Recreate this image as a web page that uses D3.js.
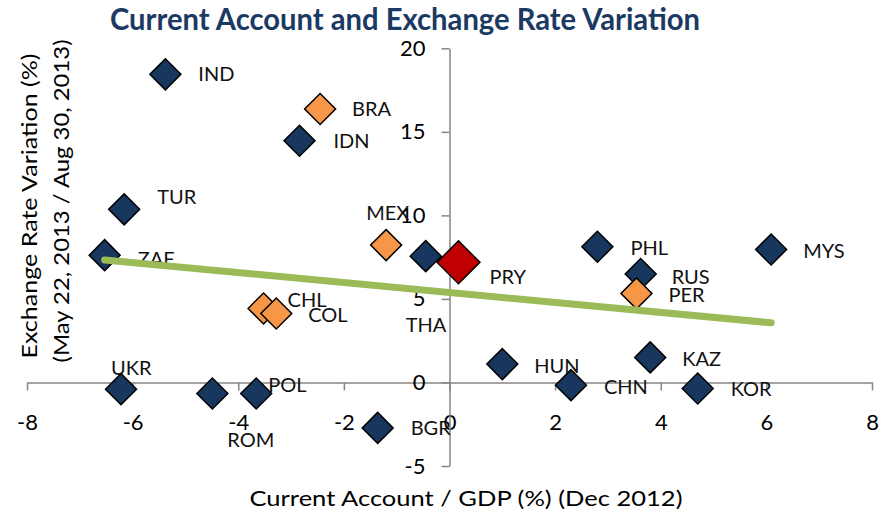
<!DOCTYPE html>
<html>
<head>
<meta charset="utf-8">
<script src="https://cdn.jsdelivr.net/npm/d3@7"></script>
<style>
  body { margin: 0; background: #fff; }
  svg { display: block; font-family: Lato, "Open Sans", sans-serif; }
</style>
</head>
<body>
<div class="canva-chart"></div>
<script>
// country codes, current account / GDP (%) and exchange rate variation (%)
const countries = ["IND","BRA","IDN","TUR","ZAF","MEX","THA","PRY","PHL","MYS","RUS","PER",
                   "HUN","KAZ","CHN","KOR","CHL","COL","UKR","ROM","POL","BGR"];
const currentAccount = [-5.38,-2.45,-2.84,-6.16,-6.53,-1.20,-0.45,0.17,2.80,6.09,3.62,3.54,
                        1.00,3.80,2.30,4.70,-3.52,-3.28,-6.22,-4.49,-3.66,-1.36];
const fxVariation = [18.44,16.37,14.47,10.36,7.62,8.22,7.56,7.19,8.12,7.96,6.49,5.33,
                     1.10,1.50,-0.16,-0.36,4.43,4.13,-0.40,-0.66,-0.66,-2.72];
// group: 0 = other, 1 = Latin America, 2 = Paraguay
const group = [0,1,0,0,0,1,0,2,0,0,0,1, 0,0,0,0,1,1,0,0,0,0];

const xTicks = [-8,-6,-4,-2,0,2,4,6,8];
const yTicks = [-5,0,5,10,15,20];

// label placement, pixels from marker centre (left edge / vertical centre of the text)
const labelOffset = {
  IND:[33,0], BRA:[32,0], IDN:[34,0], TUR:[33,-12], ZAF:[33,4], MEX:[-20,-32],
  THA:[-20,69], PRY:[31,15], PHL:[33,1], MYS:[32,2], RUS:[31,3], PER:[32,2],
  HUN:[32,2], KAZ:[32,2], CHN:[33,2], KOR:[33,1], CHL:[24,-8], COL:[32,2],
  UKR:[-10,-21], ROM:[15,47], POL:[12,-8], BGR:[33,0]
};

const colors = ["#17375e", "#f79646", "#c00000"];

const width = 885, height = 515;
const svg = d3.select(".canva-chart").append("svg")
    .attr("width", width)
    .attr("height", height);

const x = d3.scaleLinear().domain([-8, 8]).range([27, 872]);
const y = d3.scaleLinear().domain([-5, 20]).range([466, 48.3]);

// title
svg.append("text")
    .attr("x", 110).attr("y", 30)
    .attr("textLength", 590).attr("lengthAdjust", "spacingAndGlyphs")
    .attr("fill", "#1b3a63")
    .style("font-size", "30px").style("font-weight", "bold")
    .text("Current Account and Exchange Rate Variation");

// axes (plain hyphen for negatives, like the original)
const fmt = d => String(d);
const xAxis = svg.append("g")
    .attr("transform", `translate(0,${y(0)})`)
    .call(d3.axisBottom(x).tickValues(xTicks).tickFormat(fmt)
        .tickSize(8).tickPadding(16).tickSizeOuter(0));
const yAxis = svg.append("g")
    .attr("transform", `translate(${x(0)},0)`)
    .call(d3.axisLeft(y).tickValues(yTicks).tickFormat(fmt)
        .tickSize(8).tickPadding(16).tickSizeOuter(0));

[xAxis, yAxis].forEach(a => {
  a.select(".domain").attr("stroke", "#868686").attr("stroke-width", 1.5);
  a.selectAll(".tick line").attr("stroke", "#868686").attr("stroke-width", 1.5);
  a.selectAll(".tick text")
      .attr("fill", "#000")
      .style("font-size", "22px")
      .style("font-family", "Lato, sans-serif");
});
xAxis.selectAll(".tick text").attr("dy", "1.05em");

// axis titles
svg.append("text")
    .attr("x", 466).attr("y", 506)
    .attr("text-anchor", "middle")
    .attr("textLength", 433).attr("lengthAdjust", "spacingAndGlyphs")
    .style("font-size", "22px")
    .text("Current Account / GDP (%) (Dec 2012)");

svg.append("text")
    .attr("transform", "translate(37,206) rotate(-90)")
    .attr("text-anchor", "middle")
    .attr("textLength", 305).attr("lengthAdjust", "spacingAndGlyphs")
    .style("font-size", "22px")
    .text("Exchange Rate Variation (%)");

svg.append("text")
    .attr("transform", "translate(69,201) rotate(-90)")
    .attr("text-anchor", "middle")
    .attr("textLength", 323).attr("lengthAdjust", "spacingAndGlyphs")
    .style("font-size", "22px")
    .text("(May 22, 2013 / Aug 30, 2013)");

const points = countries.map((c, i) => ({
  name: c, ca: currentAccount[i], fx: fxVariation[i], g: group[i]
}));

// markers (rotated squares)
svg.append("g")
    .selectAll("path")
    .data(points)
    .join("path")
    .attr("transform", d => `translate(${x(d.ca)},${y(d.fx)}) rotate(45)`)
    .attr("d", d => d3.symbol(d3.symbolSquare, d.g === 2 ? 920 : 480)())
    .attr("fill", d => colors[d.g])
    .attr("stroke", "#000")
    .attr("stroke-width", 1.5);

// data labels
svg.append("g")
    .selectAll("text")
    .data(points)
    .join("text")
    .attr("x", d => x(d.ca) + labelOffset[d.name][0])
    .attr("y", d => y(d.fx) + labelOffset[d.name][1] + 7)
    .attr("fill", "#111")
    .style("font-size", "20px")
    .text(d => d.name);

// linear trend line (least squares)
const mx = d3.mean(points, d => d.ca), my = d3.mean(points, d => d.fx);
const slope = d3.sum(points, d => (d.ca - mx) * (d.fx - my)) / d3.sum(points, d => (d.ca - mx) ** 2);
const xr = d3.extent(points, d => d.ca);
svg.append("path")
    .datum(xr.map(v => [v, my + slope * (v - mx)]))
    .attr("fill", "none")
    .attr("stroke", "#9bbb59")
    .attr("stroke-width", 7)
    .attr("stroke-linecap", "round")
    .attr("d", d3.line().x(d => x(d[0])).y(d => y(d[1])));
</script>
</body>
</html>
